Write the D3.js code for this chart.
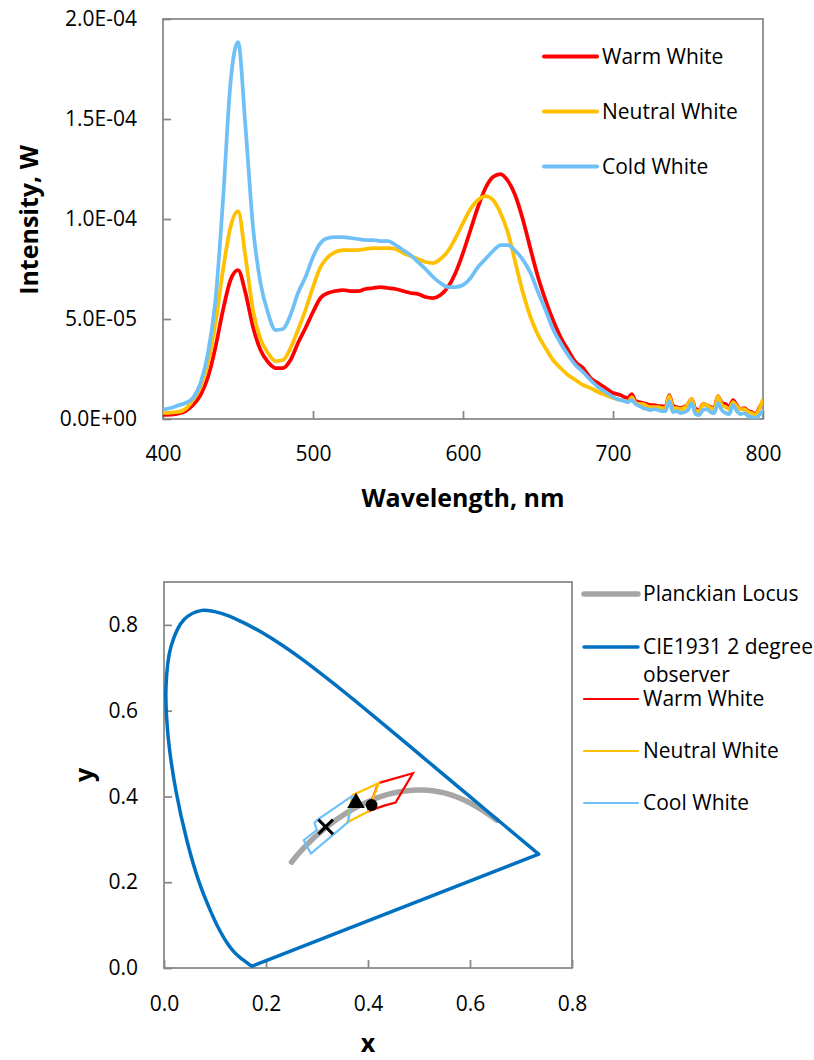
<!DOCTYPE html>
<html>
<head>
<meta charset="utf-8">
<style>
    body { margin: 0; background: #fff; }
    svg { display: block; font-family: "Open Sans", sans-serif; }
    .tick text { font-family: "Open Sans", sans-serif; font-size: 21px; fill: #000; }
    .tick line { stroke: #878787; stroke-width: 1.75px; }
    .frame { fill: none; stroke: #878787; stroke-width: 1.75px; }
    .title { font-size: 25px; font-weight: bold; text-anchor: middle; fill: #000; }
    .legend text { font-size: 21px; fill: #000; }
</style>
</head>
<body>
<svg width="814" height="1060"></svg>
<script src="https://cdn.jsdelivr.net/npm/d3@7"></script>
<script>
// ---- spectrum chart data (intensity in units of 1E-05 W) ----
var wavelength = [400, 405, 410, 415, 420, 425, 430, 435, 440, 445,
    450, 455, 460, 465, 470, 475, 480, 485, 490, 495,
    500, 505, 510, 515, 520, 525, 530, 535, 540, 545,
    550, 555, 560, 565, 570, 575, 580, 585, 590, 595,
    600, 605, 610, 615, 620, 625, 630, 635, 640, 645,
    650, 655, 660, 665, 670, 675, 680, 685, 690, 695, 700,
    702.5, 705, 707.5, 710, 712.5, 715, 717.5, 720, 722.5, 725,
    727.5, 730, 732.5, 735, 737.5, 740, 742.5, 745, 747.5, 750,
    752.5, 755, 757.5, 760, 762.5, 765, 767.5, 770, 772.5, 775,
    777.5, 780, 782.5, 785, 787.5, 790, 792.5, 795, 797.5, 800];

var warmWhite = [0.2, 0.22, 0.27, 0.4, 0.7, 1.2, 2.1, 3.6, 5.45, 6.95,
    7.45, 6.3, 4.6, 3.45, 2.85, 2.55, 2.55, 2.95, 3.8, 4.55,
    5.35, 6.05, 6.3, 6.4, 6.45, 6.4, 6.4, 6.5, 6.55, 6.6,
    6.55, 6.5, 6.4, 6.3, 6.25, 6.1, 6.05, 6.2, 6.6, 7.3,
    8.3, 9.45, 10.6, 11.55, 12.1, 12.25, 11.9, 11.15, 9.95, 8.5,
    7.1, 5.95, 4.95, 4.1, 3.45, 2.85, 2.55, 2.05, 1.8, 1.55, 1.3,
    1.25, 1.2, 1.1, 1.05, 1.25, 0.9, 0.85, 0.8, 0.75, 0.7,
    0.7, 0.65, 0.65, 0.6, 1.2, 0.65, 0.6, 0.55, 0.6, 0.75,
    1.0, 0.5, 0.45, 0.75, 0.7, 0.6, 0.55, 1.15, 0.8, 0.75,
    0.6, 0.95, 0.7, 0.5, 0.55, 0.4, 0.35, 0.25, 0.55, 0.9];

var neutralWhite = [0.3, 0.32, 0.35, 0.5, 0.95, 1.6, 2.8, 4.8, 7.45, 9.6,
    10.4, 8.1, 5.45, 4.0, 3.3, 2.9, 2.95, 3.55, 4.45, 5.45,
    6.6, 7.6, 8.1, 8.35, 8.45, 8.45, 8.45, 8.5, 8.55, 8.55,
    8.55, 8.5, 8.3, 8.15, 8.0, 7.85, 7.8, 8.0, 8.4, 9.05,
    9.8, 10.5, 10.95, 11.15, 10.95, 10.3, 9.3, 7.8, 6.3, 5.1,
    4.2, 3.55, 2.95, 2.55, 2.2, 1.95, 1.7, 1.55, 1.35, 1.2, 1.05,
    1.0, 0.95, 0.9, 0.85, 1.1, 0.8, 0.75, 0.75, 0.65, 0.6,
    0.6, 0.6, 0.55, 0.55, 1.15, 0.55, 0.55, 0.5, 0.55, 0.75,
    1.0, 0.4, 0.4, 0.75, 0.7, 0.55, 0.5, 1.15, 0.7, 0.6,
    0.5, 0.85, 0.65, 0.5, 0.5, 0.35, 0.3, 0.2, 0.5, 1.0];

var coldWhite = [0.48, 0.55, 0.68, 0.8, 1.05, 1.8, 3.3, 5.95, 10.95, 16.8,
    18.85, 14.6, 9.6, 6.8, 5.3, 4.45, 4.5, 5.2, 6.3, 7.1,
    8.1, 8.8, 9.05, 9.1, 9.1, 9.05, 9.0, 8.95, 8.95, 8.9,
    8.9, 8.7, 8.45, 8.2, 7.85, 7.5, 7.1, 6.8, 6.6, 6.6,
    6.7, 7.05, 7.6, 8.0, 8.4, 8.7, 8.7, 8.4, 7.95, 7.3,
    6.35, 5.45, 4.5, 3.8, 3.2, 2.7, 2.35, 1.95, 1.6, 1.35, 1.1,
    1.0, 0.95, 0.9, 0.85, 0.95, 0.75, 0.65, 0.55, 0.5, 0.45,
    0.5, 0.45, 0.4, 0.4, 0.9, 0.35, 0.4, 0.3, 0.35, 0.45,
    0.8, 0.25, 0.2, 0.45, 0.5, 0.35, 0.3, 0.8, 0.45, 0.3,
    0.25, 0.7, 0.4, 0.25, 0.3, 0.15, 0.1, 0.03, 0.2, 0.4];

var spectrumNames = ["Warm White", "Neutral White", "Cold White"];
var spectrumColors = ["#ff0000", "#ffc000", "#70c0f8"];
var xTicks1 = [400, 500, 600, 700, 800];
var yTicks1 = [0, 5e-5, 1e-4, 1.5e-4, 2e-4];
var yTickLabels1 = ["0.0E+00", "5.0E-05", "1.0E-04", "1.5E-04", "2.0E-04"];

// ---- chromaticity chart data ----
// CIE 1931 2 degree spectral locus, 380 nm .. 700 nm
var locusX = [0.1741, 0.1740, 0.1738, 0.1736, 0.1733, 0.1730, 0.1726, 0.1721, 0.1714, 0.1703,
    0.1689, 0.1669, 0.1644, 0.1611, 0.1566, 0.1510, 0.1440, 0.1355, 0.1241, 0.1096,
    0.0913, 0.0687, 0.0454, 0.0235, 0.0082, 0.0039, 0.0139, 0.0389, 0.0743, 0.1142,
    0.1547, 0.1929, 0.2296, 0.2658, 0.3016, 0.3373, 0.3731, 0.4087, 0.4441, 0.4788,
    0.5125, 0.5448, 0.5752, 0.6029, 0.6270, 0.6482, 0.6658, 0.6801, 0.6915, 0.7006,
    0.7079, 0.7140, 0.7190, 0.7230, 0.7260, 0.7283, 0.7300, 0.7311, 0.7320, 0.7334, 0.7347];
var locusY = [0.0050, 0.0050, 0.0049, 0.0049, 0.0048, 0.0048, 0.0048, 0.0048, 0.0051, 0.0058,
    0.0069, 0.0086, 0.0109, 0.0138, 0.0177, 0.0227, 0.0297, 0.0399, 0.0578, 0.0868,
    0.1327, 0.2007, 0.2950, 0.4127, 0.5384, 0.6548, 0.7502, 0.8120, 0.8338, 0.8262,
    0.8059, 0.7816, 0.7543, 0.7243, 0.6923, 0.6589, 0.6245, 0.5896, 0.5547, 0.5202,
    0.4866, 0.4544, 0.4242, 0.3965, 0.3725, 0.3514, 0.3340, 0.3197, 0.3083, 0.2993,
    0.2920, 0.2859, 0.2809, 0.2770, 0.2740, 0.2717, 0.2700, 0.2689, 0.2680, 0.2666, 0.2653];

var planckX = [0.2501, 0.2565, 0.2637, 0.2719, 0.2807, 0.2869, 0.2952, 0.3064, 0.3135, 0.3221,
    0.3325, 0.3451, 0.3608, 0.3805, 0.4053, 0.4369, 0.4524, 0.4684, 0.4862, 0.5056,
    0.5267, 0.5493, 0.5732, 0.5985, 0.6251, 0.6528];
var planckY = [0.2467, 0.2563, 0.2664, 0.2774, 0.2883, 0.2956, 0.3048, 0.3165, 0.3236, 0.3318,
    0.3411, 0.3516, 0.3636, 0.3768, 0.3907, 0.4041, 0.4086, 0.4123, 0.4147, 0.4152,
    0.4133, 0.4082, 0.3993, 0.3858, 0.3674, 0.3444];

var warmQuadX = [0.420, 0.488, 0.454, 0.430, 0.400, 0.420];
var warmQuadY = [0.431, 0.454, 0.386, 0.378, 0.365, 0.431];
var neutralQuadX = [0.369, 0.421, 0.400, 0.360, 0.369];
var neutralQuadY = [0.403, 0.431, 0.365, 0.340, 0.403];
var coolQuadX = [0.370, 0.300, 0.295, 0.300, 0.274, 0.288, 0.361, 0.370];
var coolQuadY = [0.402, 0.345, 0.338, 0.322, 0.298, 0.267, 0.340, 0.402];

var markerShapes = ["times", "triangle", "circle"];
var markerX = [0.317, 0.3765, 0.407];
var markerY = [0.329, 0.385, 0.380];

var xTicks2 = [0, 0.2, 0.4, 0.6, 0.8];
var yTicks2 = [0, 0.2, 0.4, 0.6, 0.8];

var svg = d3.select("svg");

// =================== spectrum chart ===================
var x1 = d3.scaleLinear().domain([400, 800]).range([163, 763]);
var y1 = d3.scaleLinear().domain([0, 2e-4]).range([419, 19]);

svg.append("clipPath").attr("id", "clip1")
    .append("rect").attr("x", 163).attr("y", 19).attr("width", 600).attr("height", 400);

var g1 = svg.append("g");

g1.append("g").attr("transform", "translate(0,419)")
    .call(d3.axisBottom(x1).tickValues(xTicks1).tickSize(-8).tickPadding(27).tickFormat(d3.format("d")))
    .call(function(g) { g.select(".domain").remove(); });

g1.append("g").attr("transform", "translate(163,0)")
    .call(d3.axisLeft(y1).tickValues(yTicks1).tickSize(-8).tickPadding(26)
        .tickFormat(function(d, i) { return yTickLabels1[i]; }))
    .call(function(g) { g.select(".domain").remove(); });

g1.append("rect").attr("class", "frame")
    .attr("x", 163).attr("y", 19).attr("width", 600).attr("height", 400);

var line1 = d3.line()
    .x(function(d) { return x1(d[0]); })
    .y(function(d) { return y1(d[1]); })
    .curve(d3.curveMonotoneX);

[warmWhite, neutralWhite, coldWhite].forEach(function(vals, k) {
    g1.append("path")
        .datum(wavelength.map(function(w, i) { return [w, vals[i] * 1e-5]; }))
        .attr("clip-path", "url(#clip1)")
        .attr("fill", "none")
        .attr("stroke", spectrumColors[k])
        .attr("stroke-width", 3.75)
        .attr("stroke-linejoin", "round")
        .attr("d", line1);
});

var leg1 = g1.append("g").attr("class", "legend");
spectrumNames.forEach(function(name, k) {
    var yy = 56.5 + k * 55;
    leg1.append("line").attr("x1", 544).attr("x2", 597).attr("y1", yy).attr("y2", yy)
        .attr("stroke", spectrumColors[k]).attr("stroke-width", 4).attr("stroke-linecap", "round");
    leg1.append("text").attr("x", 602).attr("y", yy).attr("dy", "0.35em").text(name);
});

g1.append("text").attr("class", "title")
    .attr("transform", "translate(38,220) rotate(-90)").text("Intensity, W");
g1.append("text").attr("class", "title")
    .attr("x", 463).attr("y", 507).text("Wavelength, nm");

// =================== chromaticity chart ===================
var x2 = d3.scaleLinear().domain([0, 0.8]).range([164, 572]);
var y2 = d3.scaleLinear().domain([0, 0.9]).range([968, 582]);

var g2 = svg.append("g");

g2.append("g").attr("transform", "translate(0,968)")
    .call(d3.axisBottom(x2).tickValues(xTicks2).tickSize(-8).tickPadding(28).tickFormat(d3.format(".1f")))
    .call(function(g) { g.select(".domain").remove(); });

g2.append("g").attr("transform", "translate(164,0)")
    .call(d3.axisLeft(y2).tickValues(yTicks2).tickSize(-8).tickPadding(26).tickFormat(d3.format(".1f")))
    .call(function(g) { g.select(".domain").remove(); });

g2.append("rect").attr("class", "frame")
    .attr("x", 164).attr("y", 582).attr("width", 408).attr("height", 386);

var pts = function(xs, ys) { return xs.map(function(v, i) { return [v, ys[i]]; }); };

var smooth2 = d3.line()
    .x(function(d) { return x2(d[0]); })
    .y(function(d) { return y2(d[1]); })
    .curve(d3.curveCatmullRom.alpha(0.5));
var straight2 = d3.line()
    .x(function(d) { return x2(d[0]); })
    .y(function(d) { return y2(d[1]); });

// Planckian locus
g2.append("path").datum(pts(planckX, planckY))
    .attr("fill", "none").attr("stroke", "#a6a6a6").attr("stroke-width", 5.5)
    .attr("stroke-linecap", "round").attr("d", smooth2);

// spectral locus + purple line
var locus = pts(locusX, locusY);
g2.append("path").datum(locus)
    .attr("fill", "none").attr("stroke", "#0070c0").attr("stroke-width", 3.5)
    .attr("stroke-linejoin", "round").attr("d", smooth2);
g2.append("path").datum([locus[locus.length - 1], locus[0]])
    .attr("fill", "none").attr("stroke", "#0070c0").attr("stroke-width", 3.5)
    .attr("stroke-linecap", "round").attr("d", straight2);

// white-region quadrangles
var quadColors = ["#ff0000", "#ffc000", "#70c0f8"];
[pts(warmQuadX, warmQuadY), pts(neutralQuadX, neutralQuadY), pts(coolQuadX, coolQuadY)].forEach(function(q, k) {
    g2.append("path").datum(q)
        .attr("fill", "none").attr("stroke", quadColors[k]).attr("stroke-width", 2.2)
        .attr("stroke-linejoin", "miter").attr("d", straight2);
});

// markers
var symbolType = { times: d3.symbolTimes, triangle: d3.symbolTriangle, circle: d3.symbolCircle };
var symbolSize = { times: 140, triangle: 135, circle: 110 };
markerShapes.forEach(function(s, i) {
    var p = g2.append("path")
        .attr("transform", "translate(" + x2(markerX[i]) + "," + y2(markerY[i]) + ")")
        .attr("d", d3.symbol(symbolType[s], symbolSize[s])());
    if (s === "times") p.attr("fill", "none").attr("stroke", "#000").attr("stroke-width", 3);
    else p.attr("fill", "#000");
});

// legend
var leg2Names = ["Planckian Locus", "CIE1931 2 degree|observer", "Warm White", "Neutral White", "Cool White"];
var leg2Colors = ["#a6a6a6", "#0070c0", "#ff0000", "#ffc000", "#70c0f8"];
var leg2Widths = [5.5, 3.5, 2.2, 2.2, 2.2];
var leg2Y = [594, 647, 699, 751, 803];
var leg2 = g2.append("g").attr("class", "legend");
leg2Names.forEach(function(name, k) {
    leg2.append("line").attr("x1", 584).attr("x2", 638).attr("y1", leg2Y[k]).attr("y2", leg2Y[k])
        .attr("stroke", leg2Colors[k]).attr("stroke-width", leg2Widths[k]).attr("stroke-linecap", "round");
    var t = leg2.append("text").attr("x", 643).attr("y", leg2Y[k]);
    name.split("|").forEach(function(part, j) {
        t.append("tspan").attr("x", 643).attr("dy", j === 0 ? "0.35em" : "28px").text(part);
    });
});

g2.append("text").attr("class", "title")
    .attr("transform", "translate(93,775) rotate(-90)").text("y");
g2.append("text").attr("class", "title")
    .attr("x", 368).attr("y", 1052).text("x");
</script>
</body>
</html>
